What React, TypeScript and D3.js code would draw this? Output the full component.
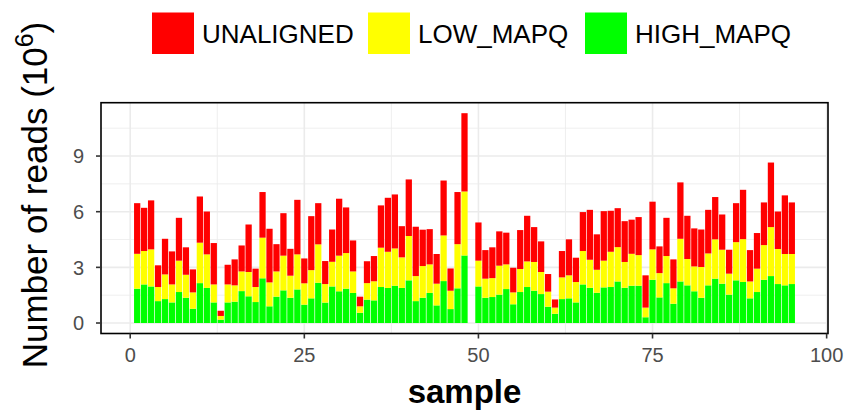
import React from "react";
import * as d3 from "d3";

// sample ids (49 is absent in the source data)
const samples = [
  1, 2, 3, 4, 5, 6, 7, 8, 9, 10, 11, 12, 13, 14, 15, 16, 17, 18, 19, 20,
  21, 22, 23, 24, 25, 26, 27, 28, 29, 30, 31, 32, 33, 34, 35, 36, 37, 38, 39, 40,
  41, 42, 43, 44, 45, 46, 47, 48, 50, 51, 52, 53, 54, 55, 56, 57, 58, 59, 60,
  61, 62, 63, 64, 65, 66, 67, 68, 69, 70, 71, 72, 73, 74, 75, 76, 77, 78, 79, 80,
  81, 82, 83, 84, 85, 86, 87, 88, 89, 90, 91, 92, 93, 94, 95,
];

// reads, millions
const highMapq = [
  1.85, 2.08, 1.97, 1.18, 1.29, 1.11, 1.67, 1.36, 0.77, 2.15, 1.89, 1.11, 0.18, 1.11, 1.15, 1.72, 1.44, 1.13, 2.41, 0.9,
  1.42, 1.76, 1.36, 1.81, 0.99, 1.33, 2.17, 1.1, 1.97, 1.71, 1.85, 1.62, 0.55, 1.26, 1.22, 1.94, 1.89, 2.01, 1.89, 2.3,
  1.18, 1.36, 1.62, 0.95, 2.26, 0.75, 1.87, 3.64, 1.97, 1.36, 1.4, 1.53, 1.83, 1.01, 1.67, 1.94, 1.74, 1.56, 0.88,
  0.5, 1.29, 1.33, 1.11, 2.08, 1.9, 1.63, 1.92, 1.94, 2.24, 1.9, 2.01, 2.01, 0.31, 2.33, 1.38, 2.15, 1.04, 2.24, 2.03,
  1.71, 1.36, 2.03, 2.39, 2.12, 1.53, 2.3, 2.21, 1.33, 1.67, 2.33, 2.53, 2.1, 2.03, 2.1,
];
const lowMapq = [
  1.88, 1.8, 2.0, 0.76, 1.33, 0.97, 1.69, 1.24, 0.88, 2.18, 1.81, 0.97, 0.2, 0.97, 0.88, 1.06, 1.31, 0.81, 2.19, 1.29,
  1.36, 1.87, 1.19, 1.89, 1.15, 1.52, 2.07, 1.0, 1.33, 1.92, 1.92, 1.16, 0.35, 0.89, 1.03, 2.12, 1.95, 2.01, 1.65, 2.39,
  1.35, 1.71, 1.54, 1.17, 2.46, 0.99, 2.38, 3.45, 1.39, 1.03, 1.02, 1.56, 1.33, 0.64, 1.24, 1.38, 1.55, 1.19, 0.81,
  0.33, 1.17, 1.24, 1.1, 1.8, 1.51, 1.24, 1.44, 1.9, 1.85, 1.39, 1.72, 1.65, 0.52, 1.64, 1.31, 1.46, 0.83, 2.3, 1.42,
  1.34, 1.66, 1.72, 2.12, 1.83, 1.13, 2.06, 2.31, 0.91, 1.26, 1.87, 2.64, 1.89, 1.69, 1.62,
];
const unaligned = [
  2.73, 2.33, 2.64, 1.17, 1.92, 1.78, 2.31, 1.48, 1.24, 2.49, 2.31, 2.23, 0.28, 1.06, 1.4, 1.4, 2.56, 0.99, 2.46, 2.89,
  1.47, 2.29, 1.45, 2.94, 1.34, 2.91, 2.22, 1.24, 1.74, 3.07, 2.46, 1.67, 0.52, 1.18, 1.36, 2.28, 2.91, 2.91, 1.68, 3.05,
  2.66, 1.96, 1.9, 1.6, 2.96, 1.2, 2.81, 4.22, 2.06, 1.54, 1.66, 1.85, 1.71, 1.33, 2.1, 2.46, 1.88, 1.65, 0.95,
  0.44, 1.42, 1.94, 1.31, 2.1, 2.69, 1.91, 2.67, 2.21, 2.1, 2.2, 1.84, 2.05, 1.74, 2.57, 1.44, 2.06, 1.56, 3.04, 2.33,
  2.05, 2.02, 2.35, 2.28, 1.9, 1.29, 2.1, 2.66, 1.69, 1.92, 2.3, 3.48, 2.02, 3.16, 2.78,
];

const keys = ["HIGH_MAPQ", "LOW_MAPQ", "UNALIGNED"];
const legendOrder = ["UNALIGNED", "LOW_MAPQ", "HIGH_MAPQ"];
const colors: Record<string, string> = {
  UNALIGNED: "#FF0000",
  LOW_MAPQ: "#FFFF00",
  HIGH_MAPQ: "#00FF00",
};
const xTicks = [0, 25, 50, 75, 100];
const yTicks = [0, 3, 6, 9];

const W = 853;
const H = 411;
const panel = { left: 101, right: 828, top: 102.7, bottom: 333.5 };
const FONT = "'Liberation Sans', Arial, sans-serif";

export default function App() {
  const rows = samples.map((s, i) => ({
    sample: s,
    HIGH_MAPQ: highMapq[i],
    LOW_MAPQ: lowMapq[i],
    UNALIGNED: unaligned[i],
  }));
  const series = d3.stack<any>().keys(keys)(rows);

  const bw = 0.9;
  const xLo = d3.min(samples)! - bw / 2;
  const xHi = d3.max(samples)! + bw / 2;
  const xPad = (xHi - xLo) * 0.05;
  const x = d3.scaleLinear().domain([xLo - xPad, xHi + xPad]).range([panel.left, panel.right]);

  const yMax = d3.max(series[series.length - 1], (d) => d[1])!;
  const y = d3
    .scaleLinear()
    .domain([-yMax * 0.05, yMax * 1.05])
    .range([panel.bottom, panel.top]);

  const xMinor = xTicks.slice(0, -1).map((t, i) => (t + xTicks[i + 1]) / 2);
  const yMinor = [...yTicks.slice(0, -1).map((t, i) => (t + yTicks[i + 1]) / 2), 10.5];
  const barW = x(bw) - x(0);

  const midX = (panel.left + panel.right) / 2;

  // legend keys and labels
  const legendX = [152, 368, 585];

  return (
    <svg width={W} height={H} style={{ position: "absolute", left: 0, top: 0, background: "#fff" }}>
      {/* grid */}
      <g>
        {xMinor.map((t) => (
          <line key={"xm" + t} x1={x(t)} x2={x(t)} y1={panel.top} y2={panel.bottom} stroke="#EBEBEB" strokeWidth={0.8} />
        ))}
        {yMinor.map((t) => (
          <line key={"ym" + t} x1={panel.left} x2={panel.right} y1={y(t)} y2={y(t)} stroke="#EBEBEB" strokeWidth={0.8} />
        ))}
        {xTicks.map((t) => (
          <line key={"x" + t} x1={x(t)} x2={x(t)} y1={panel.top} y2={panel.bottom} stroke="#EBEBEB" strokeWidth={1.6} />
        ))}
        {yTicks.map((t) => (
          <line key={"y" + t} x1={panel.left} x2={panel.right} y1={y(t)} y2={y(t)} stroke="#EBEBEB" strokeWidth={1.6} />
        ))}
      </g>

      {/* bars */}
      {series.map((s) => (
        <g key={s.key} fill={colors[s.key]}>
          {s.map((d: any) => (
            <rect
              key={d.data.sample}
              x={x(d.data.sample) - barW / 2}
              width={barW}
              y={y(d[1])}
              height={y(d[0]) - y(d[1])}
            />
          ))}
        </g>
      ))}

      {/* panel border */}
      <rect
        x={panel.left}
        y={panel.top}
        width={panel.right - panel.left}
        height={panel.bottom - panel.top}
        fill="none"
        stroke="#000"
        strokeWidth={1.6}
      />

      {/* x axis */}
      {xTicks.map((t) => (
        <g key={"xt" + t}>
          <line x1={x(t)} x2={x(t)} y1={panel.bottom} y2={panel.bottom + 5} stroke="#333" strokeWidth={1.6} />
          <text x={x(t)} y={362} textAnchor="middle" fontFamily={FONT} fontSize={20} fill="#4D4D4D">
            {t}
          </text>
        </g>
      ))}

      {/* y axis */}
      {yTicks.map((t) => (
        <g key={"yt" + t}>
          <line x1={panel.left - 5} x2={panel.left} y1={y(t)} y2={y(t)} stroke="#333" strokeWidth={1.6} />
          <text x={84} y={y(t)} textAnchor="end" dy="0.36em" fontFamily={FONT} fontSize={20} fill="#4D4D4D">
            {t}
          </text>
        </g>
      ))}

      {/* axis titles */}
      <text x={midX} y={403} textAnchor="middle" fontFamily={FONT} fontWeight="bold" fontSize={33} fill="#000">
        sample
      </text>
      <text
        transform={`translate(47,195) rotate(-90)`}
        textAnchor="middle"
        fontFamily={FONT}
        fontSize={35}
        fill="#000"
      >
        Number of reads (10
        <tspan fontSize={25} dy={-14}>6</tspan>
        <tspan dy={14}>)</tspan>
      </text>

      {/* legend */}
      {legendOrder.map((k, i) => (
        <g key={"lg" + k}>
          <rect x={legendX[i]} y={12.5} width={42} height={41.5} fill={colors[k]} />
          <text x={legendX[i] + 50} y={42.5} fontFamily={FONT} fontSize={26} fill="#000">
            {k}
          </text>
        </g>
      ))}
    </svg>
  );
}
